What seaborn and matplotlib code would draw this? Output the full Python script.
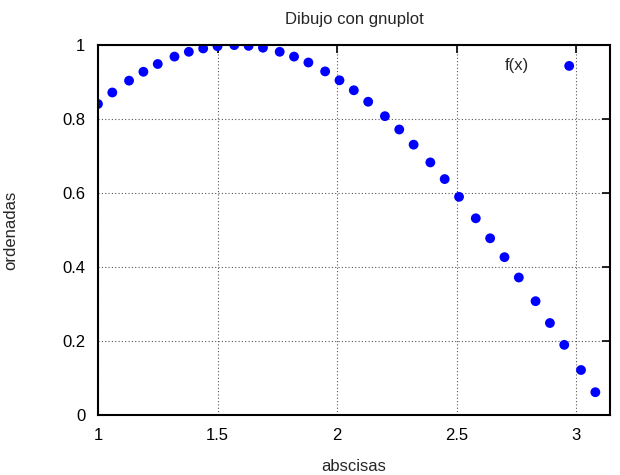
import pandas as pd
import matplotlib
matplotlib.use("Agg")
import matplotlib.pyplot as plt
import seaborn as sns

# data
x_vals = [1.00, 1.06, 1.13, 1.19, 1.25, 1.32, 1.38, 1.44, 1.50, 1.57,
          1.63, 1.69, 1.76, 1.82, 1.88, 1.95, 2.01, 2.07, 2.13, 2.20,
          2.26, 2.32, 2.39, 2.45, 2.51, 2.58, 2.64, 2.70, 2.76, 2.83,
          2.89, 2.95, 3.02, 3.08]
y_vals = [0.841, 0.872, 0.904, 0.928, 0.949, 0.969, 0.982, 0.991, 0.997, 1.000,
          0.998, 0.993, 0.982, 0.969, 0.953, 0.929, 0.905, 0.878, 0.847, 0.808,
          0.772, 0.731, 0.683, 0.638, 0.590, 0.532, 0.478, 0.427, 0.372, 0.308,
          0.249, 0.190, 0.122, 0.062]
x_ticks = [1, 1.5, 2, 2.5, 3]
y_ticks = [0, 0.2, 0.4, 0.6, 0.8, 1]

df = pd.DataFrame({"x": x_vals, "y": y_vals})

sns.set_style("white")
plt.rcParams["font.family"] = ["Liberation Sans", "DejaVu Sans"]

fig = plt.figure(figsize=(6.2, 4.75), dpi=100)
ax = fig.add_axes([0.158, 0.126, 0.826, 0.779])

sns.scatterplot(data=df, x="x", y="y", ax=ax, color="#0000ff",
                s=50, edgecolor="none", label="f(x)")

ax.set_xlim(1, 3.1416)
ax.set_ylim(0, 1)
ax.set_xticks(x_ticks)
ax.set_xticklabels(["1", "1.5", "2", "2.5", "3"])
ax.set_yticks(y_ticks)
ax.set_yticklabels(["0", "0.2", "0.4", "0.6", "0.8", "1"])

ax.grid(True, linestyle=(0, (1, 2)), color="#555555", linewidth=0.8)
for s in ax.spines.values():
    s.set_linewidth(1.5)
    s.set_color("black")
ax.tick_params(direction="in", length=6, width=1.2, top=True, right=True,
               labelsize=12, colors="black", pad=9)

ax.set_title("Dibujo con gnuplot", fontsize=12, pad=15)
ax.set_xlabel("abscisas", fontsize=12, labelpad=12)
ax.set_ylabel("ordenadas", fontsize=12, labelpad=32)

ax.legend(loc="upper right", frameon=False, markerfirst=False,
          fontsize=12, handletextpad=1.4, borderaxespad=0.5,
          bbox_to_anchor=(0.982, 1.005))

plt.savefig("out.png", dpi=100)
